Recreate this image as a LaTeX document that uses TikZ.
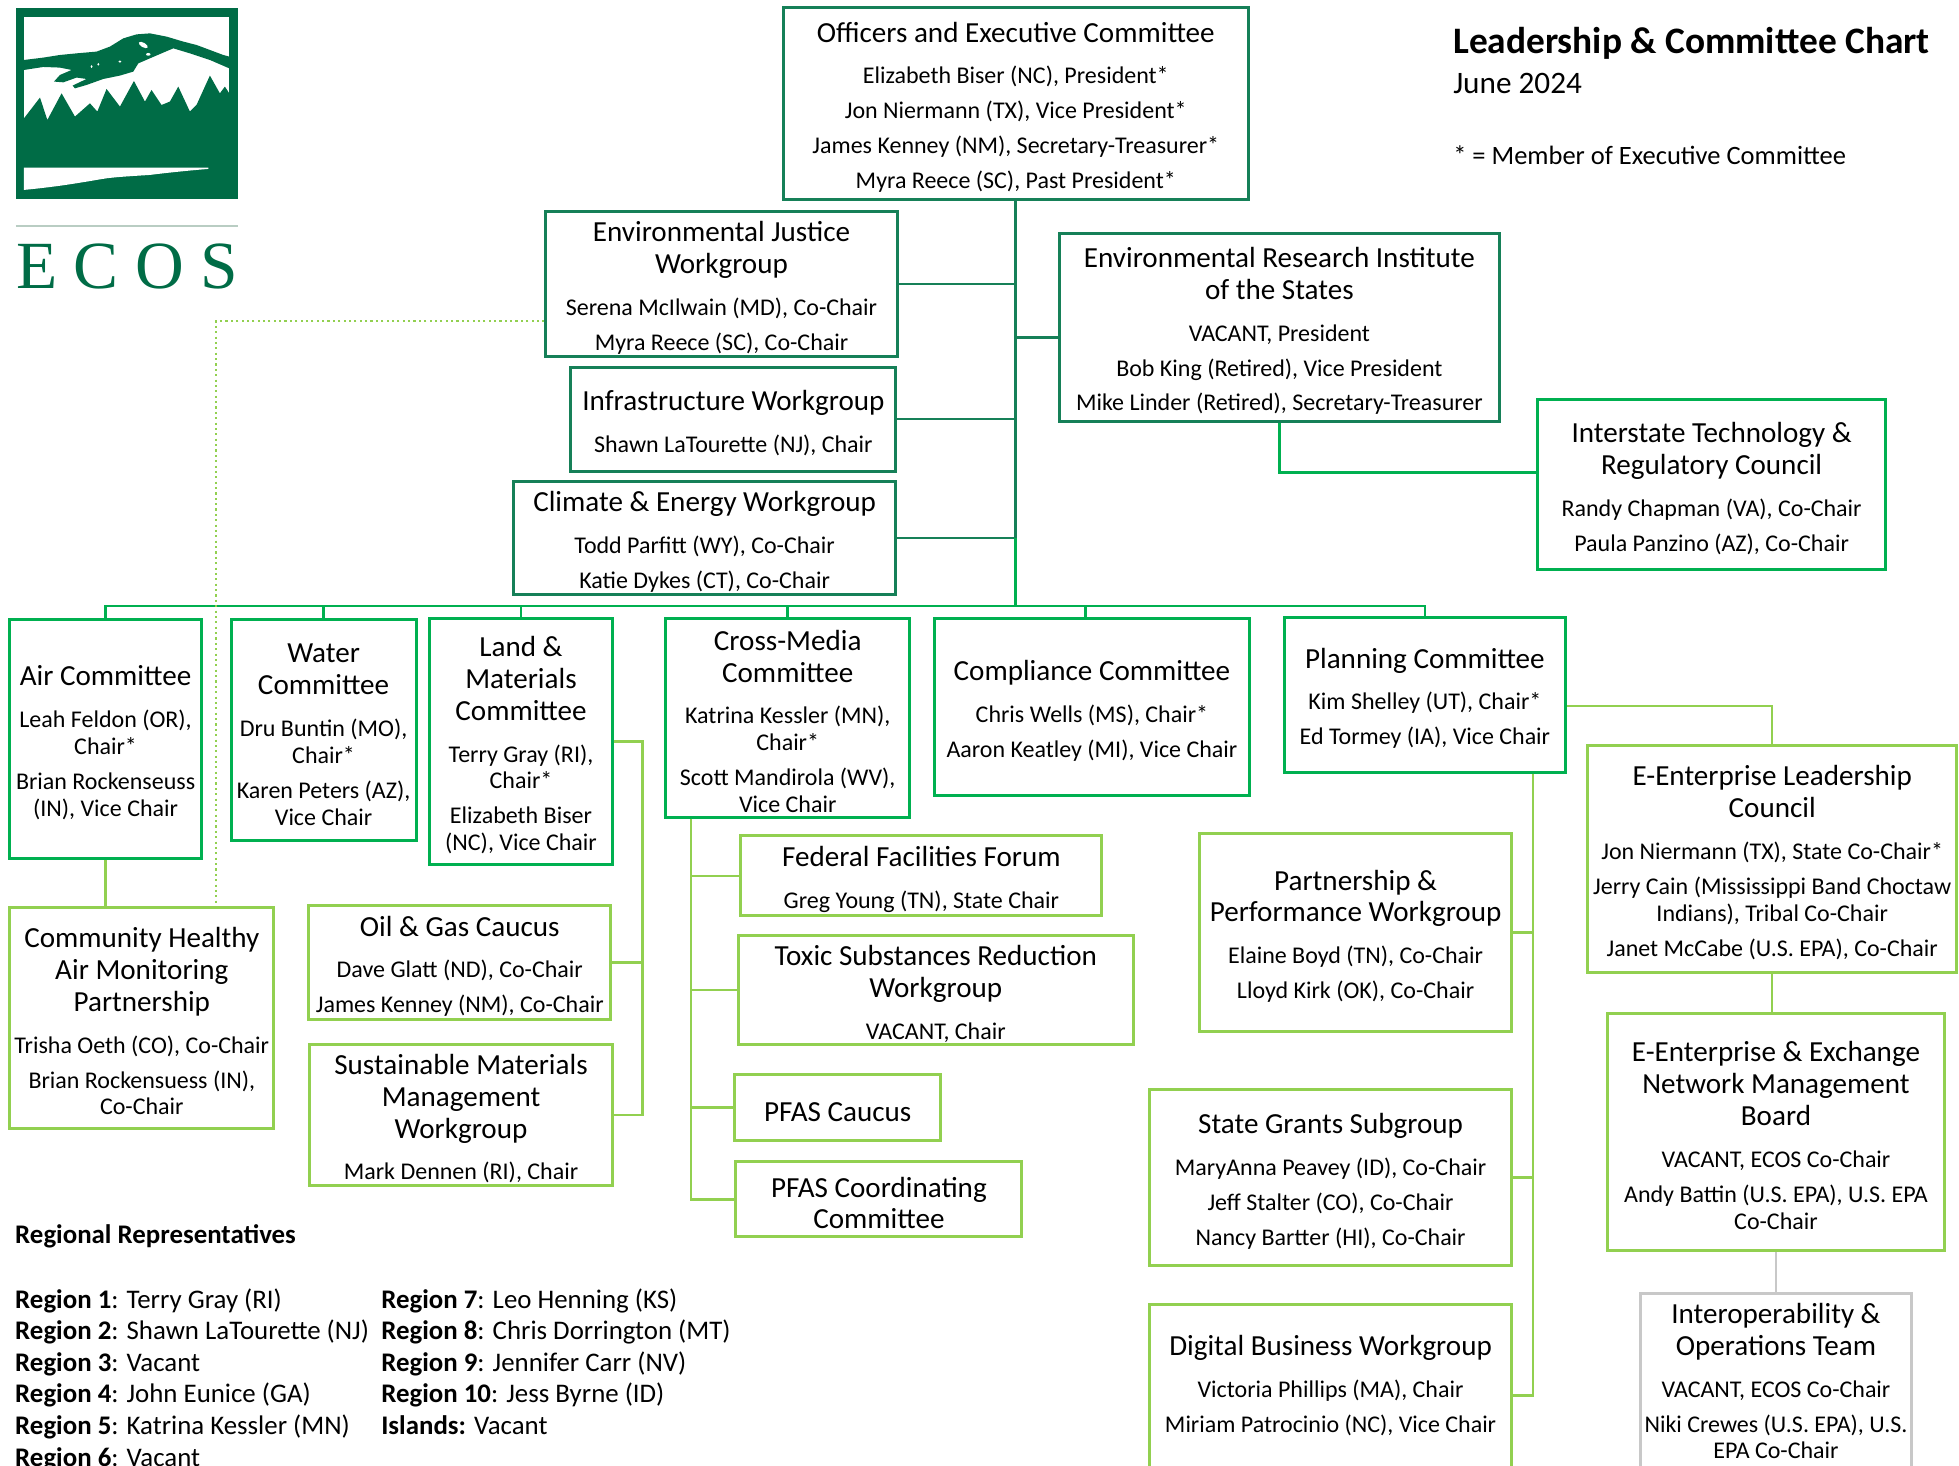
\documentclass[tikz,border=0pt]{standalone}
\usepackage{fontspec}
\setmainfont{Carlito}
\newfontfamily\logofont{Liberation Serif}
\usetikzlibrary{calc}
\definecolor{dkg}{RGB}{22,128,88}
\definecolor{brg}{RGB}{0,176,80}
\definecolor{ltg}{RGB}{146,208,80}
\definecolor{gry}{RGB}{200,200,200}
\definecolor{logog}{RGB}{0,108,70}
\definecolor{linegr}{RGB}{185,205,195}
\newcommand\ttl{\fontsize{23.3}{25.5}\selectfont\rule{0pt}{22pt}}
\newcommand\dpfix{\rule[-12pt]{0pt}{12pt}}
\newcommand\TL{\\[4pt]}
\newcommand\TB{\\[12pt]}
\newcommand\EB{\\[6.5pt]}
\newcommand\bx[7]{\node[#1, minimum width={#5-#3}, minimum height={#6-#4}] (#2) at ({(#3+#5)/2},{(#4+#6)/2}) {#7};}
\tikzset{
  box/.style={draw, line width=2.4pt, fill=white, align=center, inner sep=2pt, text=black,
    font={\fontsize{19.2}{21.5}\selectfont\lineskiplimit=-100pt}},
  dkbox/.style={box, draw=dkg},
  brbox/.style={box, draw=brg},
  ltbox/.style={box, draw=ltg},
  grbox/.style={box, draw=gry},
  dkline/.style={draw=dkg, line width=2pt},
  brline/.style={draw=brg, line width=2pt},
  ltline/.style={draw=ltg, line width=2pt},
  gyline/.style={draw=gry, line width=2pt},
  dotline/.style={draw=ltg, line width=1.7pt, dash pattern=on 1.7pt off 2.6pt},
  plain/.style={anchor=base west, inner sep=0pt, text=black},
}
\begin{document}
\begin{tikzpicture}[x=1pt,y=-1pt]
\useasboundingbox (0,0) rectangle (1568,1173);
\clip (0,0) rectangle (1568,1173);
\fill[white] (0,0) rectangle (1568,1173);

% ---------- logo ----------
\fill[logog] (12.8,6.7) rectangle (190.7,159.5);
\fill[white] (19.2,13.3) rectangle (183.5,97);
% mountain
\fill[logog] (19.2,48) -- (34.7,46.1) -- (48,44) -- (61.3,42.7) -- (77.3,41.3) -- (88,37.3) -- (98.7,30.7) -- (109.3,27.5) -- (120,26.7) -- (133.3,29.3) -- (146.7,33.3) -- (157.3,36) -- (168,40) -- (178.7,44) -- (183.5,45.3)
  -- (183.5,54.7) -- (168,48) -- (152,42.7) -- (138.7,38.7) -- (129.3,42.7) -- (120,46.7) -- (110.7,50.7) -- (106.7,57.3) -- (96,60.5) -- (82.7,63.2) -- (69.3,68) -- (60,70.7) -- (58.1,68.5) -- (69.3,63.2) -- (61.3,62.1) -- (50.7,65.9) -- (43.2,65.3) -- (48,60) -- (57.3,56) -- (48,54.1) -- (34.7,53.6) -- (19.2,56) -- cycle;
\fill[white, rotate around={-30:(114.7,36)}] (114.7,36) ellipse (4 and 1.8);
\fill[white] (118.7,43.5) ellipse (1.8 and 1.1);
\fill[white] (96,49.3) ellipse (1.2 and 0.9);
\fill[white] (73.3,53.3) ellipse (0.8 and 1.2);
\fill[white] (78.7,51.5) ellipse (0.8 and 1.1);
% trees
\fill[logog] (19.2,94.7) -- (32,78.1) -- (37.9,96) -- (49.3,74.7) -- (60,93.3) -- (72,82.7) -- (77.9,89.3) -- (85.3,71.2) -- (96,85.3) -- (107.2,64.8) -- (116,81.3) -- (121.3,72) -- (129.3,84) -- (136,81.3) -- (142.7,69.3) -- (152,89.3) -- (157.3,84) -- (168,60.5) -- (176,74.7) -- (180,69.3) -- (183.5,74.7) -- (183.5,98) -- (19.2,98) -- cycle;
% lake
\fill[white] (19.2,134.1) -- (166.7,134.1) -- (166.7,135.2) .. controls (145,137) and (128,139) .. (120,140) .. controls (105,141) and (95,141.5) .. (85.3,142.7) .. controls (65,146) and (50,149) .. (19.2,152) -- cycle;
\draw[linegr, line width=1.2pt] (12.8,181) -- (190.7,181);
\node[anchor=base west, inner sep=0pt, text=logog, font={\logofont\fontsize{54}{54}\selectfont}] (ecos) at (12.9,231) {\hbox to 177.5pt{E\hfil C\hfil O\hfil S}};

% ---------- header ----------
\node[plain, font={\bfseries\fontsize{29.9}{31}\selectfont}] (title) at (1163,43) {Leadership \& Committee Chart};
\node[plain, font={\fontsize{25}{27}\selectfont}] (date) at (1163,75) {June 2024};
\node[plain, font={\fontsize{21.2}{23}\selectfont}] (legend) at (1163,132) {* = Member of Executive Committee};

% ---------- boxes ----------
\bx{dkbox}{off}{627}{6}{999}{160}{\ttl Officers and Executive Committee\TB Elizabeth Biser (NC), President*\EB Jon Niermann (TX), Vice President*\EB James Kenney (NM), Secretary-Treasurer*\EB Myra Reece (SC), Past President*}
\bx{dkbox}{ej}{437}{170}{718}{285}{\ttl Environmental Justice\TL\ttl Workgroup\TB Serena McIlwain (MD), Co-Chair\EB Myra Reece (SC), Co-Chair}
\bx{dkbox}{eri}{848}{187}{1200}{337}{\ttl Environmental Research Institute\TL\ttl of the States\TB VACANT, President\EB Bob King (Retired), Vice President\EB Mike Linder (Retired), Secretary-Treasurer}
\bx{dkbox}{inf}{457}{294}{717}{377}{\ttl Infrastructure Workgroup\TB Shawn LaTourette (NJ), Chair}
\bx{dkbox}{clim}{411}{387}{717}{474}{\ttl Climate \& Energy Workgroup\TB Todd Parfitt (WY), Co-Chair\EB Katie Dykes (CT), Co-Chair}
\bx{brbox}{itrc}{1231}{320}{1509}{456}{\ttl Interstate Technology \&\TL\ttl Regulatory Council\TB Randy Chapman (VA), Co-Chair\EB Paula Panzino (AZ), Co-Chair}

\bx{brbox}{air}{8}{496}{161}{687}{\ttl Air Committee\TB Leah Feldon (OR),\\Chair*\EB Brian Rockenseuss\\(IN), Vice Chair}
\bx{brbox}{water}{185}{496}{333}{673}{\ttl Water\TL\ttl Committee\TB Dru Buntin (MO),\\Chair*\EB Karen Peters (AZ),\\Vice Chair}
\bx{brbox}{land}{344}{495}{490}{692}{\ttl Land \&\TL\ttl Materials\TL\ttl Committee\TB Terry Gray (RI),\\Chair*\EB Elizabeth Biser\\(NC), Vice Chair}
\bx{brbox}{cross}{533}{495}{728}{654}{\ttl Cross-Media\TL\ttl Committee\TB Katrina Kessler (MN),\\Chair*\EB Scott Mandirola (WV),\\Vice Chair}
\bx{brbox}{comp}{748}{495}{1000}{637}{\ttl Compliance Committee\TB Chris Wells (MS), Chair*\EB Aaron Keatley (MI), Vice Chair}
\bx{brbox}{plan}{1028}{494}{1253}{618}{\ttl Planning Committee\TB Kim Shelley (UT), Chair*\EB Ed Tormey (IA), Vice Chair}

\bx{ltbox}{ch}{8}{726}{219}{903}{\ttl Community Healthy\TL\ttl Air Monitoring\TL\ttl Partnership\TB Trisha Oeth (CO), Co-Chair\EB Brian Rockensuess (IN),\\Co-Chair}
\bx{ltbox}{oil}{247}{725}{489}{816}{\ttl Oil \& Gas Caucus\TB Dave Glatt (ND), Co-Chair\EB James Kenney (NM), Co-Chair}
\bx{ltbox}{sust}{248}{836}{490}{949}{\ttl Sustainable Materials\TL\ttl Management\TL\ttl Workgroup\TB Mark Dennen (RI), Chair}
\bx{ltbox}{fff}{593}{669}{882}{733}{\ttl Federal Facilities Forum\TB Greg Young (TN), State Chair}
\bx{ltbox}{tox}{591}{749}{907}{836}{\ttl Toxic Substances Reduction\TL\ttl Workgroup\TB VACANT, Chair}
\bx{ltbox}{pfc}{588}{860}{753}{913}{\ttl PFAS Caucus}
\bx{ltbox}{pco}{589}{930}{818}{990}{\ttl PFAS Coordinating\TL\ttl Committee}
\bx{ltbox}{part}{960}{667}{1210}{826}{\ttl Partnership \&\TL\ttl Performance Workgroup\TB Elaine Boyd (TN), Co-Chair\EB Lloyd Kirk (OK), Co-Chair}
\bx{ltbox}{sgs}{920}{872}{1210}{1013}{\ttl State Grants Subgroup\TB MaryAnna Peavey (ID), Co-Chair\EB Jeff Stalter (CO), Co-Chair\EB Nancy Bartter (HI), Co-Chair}
\bx{ltbox}{dig}{920}{1044}{1210}{1178}{\ttl Digital Business Workgroup\TB Victoria Phillips (MA), Chair\EB Miriam Patrocinio (NC), Vice Chair\dpfix}
\bx{ltbox}{eelc}{1271}{597}{1566}{778}{\ttl E-Enterprise Leadership\TL\ttl Council\TB Jon Niermann (TX), State Co-Chair*\EB Jerry Cain (Mississippi Band Choctaw\\Indians), Tribal Co-Chair\EB Janet McCabe (U.S. EPA), Co-Chair}
\bx{ltbox}{een}{1287}{811}{1556}{1001}{\ttl E-Enterprise \& Exchange\TL\ttl Network Management\TL\ttl Board\TB VACANT, ECOS Co-Chair\EB Andy Battin (U.S. EPA), U.S. EPA\\Co-Chair}
\bx{grbox}{iop}{1313}{1037}{1530}{1180}{\ttl Interoperability \&\TL\ttl Operations Team\TB VACANT, ECOS Co-Chair\EB Niki Crewes (U.S. EPA), U.S.\\EPA Co-Chair\dpfix}

% ---------- connectors ----------
\coordinate (bus) at (811,485);
\draw[dkline] (off.south) -- (off.south |- clim.east);
\draw[dkline] (ej.east) -- (ej.east -| off.south);
\draw[dkline] (inf.east) -- (inf.east -| off.south);
\draw[dkline] (clim.east) -- (clim.east -| off.south);
\draw[dkline] ([yshift=-8pt]eri.west) -- ([yshift=-8pt]eri.west -| off.south);
\draw[brline] (off.south |- clim.east) -- (off.south |- bus);
\draw[brline] (air.north) -- (air.north |- bus) -- (plan.north |- bus) -- (plan.north);
\foreach \n in {water,land,cross} \draw[brline] (\n.north) -- (\n.north |- bus);
\draw[brline] ([xshift=-5pt]comp.north) -- ([xshift=-5pt]comp.north |- bus);
\draw[brline] (eri.south) |- ([yshift=10pt]itrc.west);

\draw[ltline] (air.south) -- (air.south |- ch.north);
\draw[ltline] (land.east) -- ++(23,0) coordinate (lx) |- (sust.east);
\draw[ltline] (oil.east) -- (oil.east -| lx);
\draw[ltline] ([xshift=-77.5pt]cross.south) coordinate (cx) |- (pco.west);
\foreach \n in {fff,tox,pfc} \draw[ltline] (\n.west) -- (\n.west -| cx);
\draw[ltline] ([xshift=86.5pt]plan.south) coordinate (px) |- ([yshift=-6pt]dig.east);
\foreach \n in {part,sgs} \draw[ltline] (\n.east) -- (\n.east -| px);
\draw[ltline] ([yshift=-9pt]plan.east) -| (eelc.north);
\draw[ltline] (eelc.south) -- (eelc.south |- een.north);
\draw[gyline] (een.south) -- (een.south |- iop.north);
\draw[dotline] ([yshift=-29.5pt]ej.west) -| ([xshift=59.5pt]ch.north);

% ---------- regional representatives ----------
\node[plain, font={\bfseries\fontsize{21.5}{24}\selectfont}] (regh) at (12,995) {Regional Representatives};
\foreach \t [count=\i] in {{\textbf{Region 1}: Terry Gray (RI)},{\textbf{Region 2}: Shawn LaTourette (NJ)},{\textbf{Region 3}: Vacant},{\textbf{Region 4}: John Eunice (GA)},{\textbf{Region 5}: Katrina Kessler (MN)},{\textbf{Region 6}: Vacant}}
  \node[plain, font={\fontsize{21.5}{24}\selectfont}] (ra\i) at (12,{1047+25.3*(\i-1)}) {\t};
\foreach \t [count=\i] in {{\textbf{Region 7}: Leo Henning (KS)},{\textbf{Region 8}: Chris Dorrington (MT)},{\textbf{Region 9}: Jennifer Carr (NV)},{\textbf{Region 10}: Jess Byrne (ID)},{\textbf{Islands:} Vacant}}
  \node[plain, font={\fontsize{21.5}{24}\selectfont}] (rb\i) at (305,{1047+25.3*(\i-1)}) {\t};
\end{tikzpicture}
\end{document}
